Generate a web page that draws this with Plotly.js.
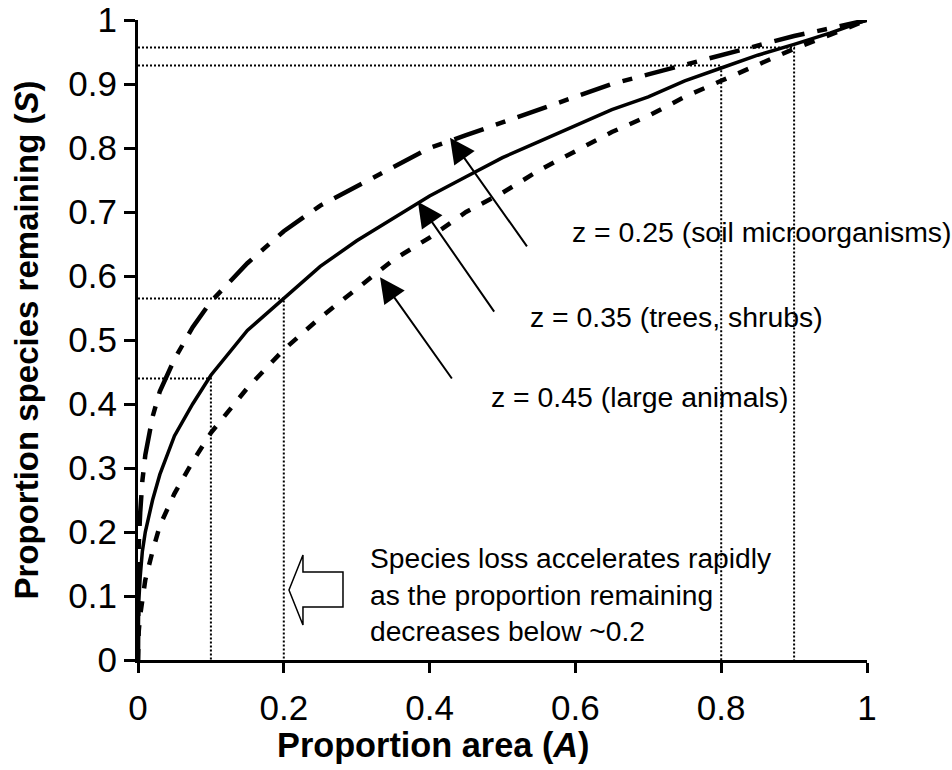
<!DOCTYPE html>
<html>
<head>
<meta charset="utf-8">
<script src="https://cdn.plot.ly/plotly-3.0.1.min.js"></script>
<style>
  html, body { margin: 0; padding: 0; background: #fff; }
  #chart { width: 952px; height: 770px; }
</style>
</head>
<body>
<div id="chart"></div>
<script>
// Proportion of area (x) at which the curves were read
const areaA = [0, 0.0002, 0.001, 0.003, 0.006, 0.01, 0.02, 0.03, 0.05, 0.075, 0.1, 0.15, 0.2, 0.25, 0.3, 0.35, 0.4, 0.45, 0.5, 0.55, 0.6, 0.65, 0.7, 0.75, 0.8, 0.85, 0.9, 0.95, 1];
// Proportion of species remaining
const speciesZ025 = [0, 0.12, 0.18, 0.23, 0.28, 0.32, 0.38, 0.42, 0.47, 0.52, 0.56, 0.62, 0.67, 0.71, 0.74, 0.77, 0.80, 0.82, 0.84, 0.86, 0.88, 0.90, 0.915, 0.93, 0.945, 0.96, 0.975, 0.987, 1];
const speciesZ035 = [0, 0.05, 0.09, 0.13, 0.17, 0.20, 0.25, 0.29, 0.35, 0.40, 0.445, 0.515, 0.565, 0.615, 0.655, 0.69, 0.725, 0.755, 0.785, 0.81, 0.835, 0.86, 0.88, 0.905, 0.925, 0.945, 0.962, 0.98, 1];
const speciesZ045 = [0, 0.02, 0.045, 0.07, 0.10, 0.125, 0.17, 0.21, 0.26, 0.31, 0.355, 0.425, 0.485, 0.535, 0.58, 0.625, 0.66, 0.70, 0.73, 0.765, 0.795, 0.825, 0.85, 0.88, 0.905, 0.93, 0.955, 0.977, 1];

// Dotted reference drop lines (area, species)
const refArea = [0.1, 0.2, 0.8, 0.9];
const refSpecies = [0.44, 0.565, 0.929, 0.957];

// Tick labels
const xTickVals = [0, 0.2, 0.4, 0.6, 0.8, 1];
const xTickText = ['0', '0.2', '0.4', '0.6', '0.8', '1'];
const yTickVals = [0, 0.1, 0.2, 0.3, 0.4, 0.5, 0.6, 0.7, 0.8, 0.9, 1];
const yTickText = ['0', '0.1', '0.2', '0.3', '0.4', '0.5', '0.6', '0.7', '0.8', '0.9', '1'];

// Curve labels and arrows
const curveLabels = ['z = 0.25 (soil microorganisms)', 'z = 0.35 (trees, shrubs)', 'z = 0.45 (large animals)'];
const labelX = [0.592, 0.535, 0.481];
const labelY = [0.669, 0.536, 0.411];
const arrowTipX = [0.428, 0.384, 0.332];
const arrowTipY = [0.816, 0.716, 0.598];
const arrowTailX = [0.535, 0.490, 0.432];
const arrowTailY = [0.644, 0.542, 0.4375];

const noteLines = ['Species loss accelerates rapidly', 'as the proportion remaining', 'decreases below ~0.2'];

const FONT = 'Liberation Sans, Arial, Helvetica, sans-serif';

// Build reference drop lines
const refX = [], refY = [];
refArea.forEach((a, i) => {
  refX.push(0, a, a, null);
  refY.push(refSpecies[i], refSpecies[i], 0, null);
});

const traces = [
  {
    x: refX, y: refY, mode: 'lines', type: 'scatter', hoverinfo: 'skip',
    line: { color: '#000', width: 2, dash: '2px,2px' }, showlegend: false
  },
  {
    x: areaA, y: speciesZ045, mode: 'lines', type: 'scatter', name: 'z = 0.45',
    line: { color: '#000', width: 4.5, dash: '11px,13px' }, showlegend: false
  },
  {
    x: areaA, y: speciesZ035, mode: 'lines', type: 'scatter', name: 'z = 0.35',
    line: { color: '#000', width: 3.5 }, showlegend: false
  },
  {
    x: areaA, y: speciesZ025, mode: 'lines', type: 'scatter', name: 'z = 0.25',
    line: { color: '#000', width: 4.5, dash: '31px,13px,10px,13px' }, showlegend: false
  }
];

const annotations = [];
curveLabels.forEach((t, i) => {
  annotations.push({
    x: arrowTipX[i], y: arrowTipY[i], xref: 'x', yref: 'y',
    ax: arrowTailX[i], ay: arrowTailY[i], axref: 'x', ayref: 'y',
    text: '', showarrow: true, arrowhead: 2, arrowsize: 2.5, arrowwidth: 2,
    arrowcolor: '#000', standoff: 0, startstandoff: 0
  });
  annotations.push({
    x: labelX[i], y: labelY[i], xref: 'x', yref: 'y',
    text: t, showarrow: false, xanchor: 'left', yanchor: 'middle',
    font: { family: FONT, size: 28.4, color: '#000' }
  });
});

annotations.push({
  x: 0.316, y: 0.1016, xref: 'x', yref: 'y',
  text: noteLines.join('<br>'), showarrow: false, xanchor: 'left', yanchor: 'middle',
  align: 'left', font: { family: FONT, size: 28.2, color: '#000' }
});

annotations.push({
  x: 0.406, y: -0.133, xref: 'x', yref: 'paper',
  text: '<b>Proportion area (<i>A</i>)</b>', showarrow: false,
  xanchor: 'center', yanchor: 'middle',
  font: { family: FONT, size: 34.3, color: '#000' }
});

const layout = {
  width: 952, height: 770,
  margin: { l: 138, r: 85, t: 20, b: 110 },
  paper_bgcolor: '#fff', plot_bgcolor: '#fff',
  font: { family: FONT, color: '#000' },
  showlegend: false,
  xaxis: {
    range: [0, 1], showgrid: false, zeroline: false,
    showline: true, linecolor: '#000', linewidth: 3,
    ticks: 'outside', ticklen: 10, tickwidth: 3, tickcolor: '#000',
    tickvals: xTickVals, ticktext: xTickText, ticklabelstandoff: 5,
    tickfont: { family: FONT, size: 35, color: '#000' },
    fixedrange: true
  },
  yaxis: {
    range: [0, 1], showgrid: false, zeroline: false,
    showline: true, linecolor: '#000', linewidth: 3,
    ticks: 'outside', ticklen: 11, tickwidth: 3, tickcolor: '#000',
    tickvals: yTickVals, ticktext: yTickText,
    tickfont: { family: FONT, size: 35, color: '#000' },
    title: { text: '<b>Proportion species remaining (<i>S</i>)</b>', font: { family: FONT, size: 33, color: '#000' }, standoff: 20 },
    fixedrange: true
  },
  annotations: annotations,
  shapes: [
    {
      type: 'path', xref: 'x', yref: 'y',
      path: 'M0.2071,0.1094 L0.2263,0.1641 L0.2263,0.1375 L0.2812,0.1375 L0.2812,0.0828 L0.2263,0.0828 L0.2263,0.0547 Z',
      fillcolor: '#fff', line: { color: '#000', width: 1.5 }
    }
  ]
};

Plotly.newPlot('chart', traces, layout, { displayModeBar: false, staticPlot: true });
</script>
</body>
</html>
